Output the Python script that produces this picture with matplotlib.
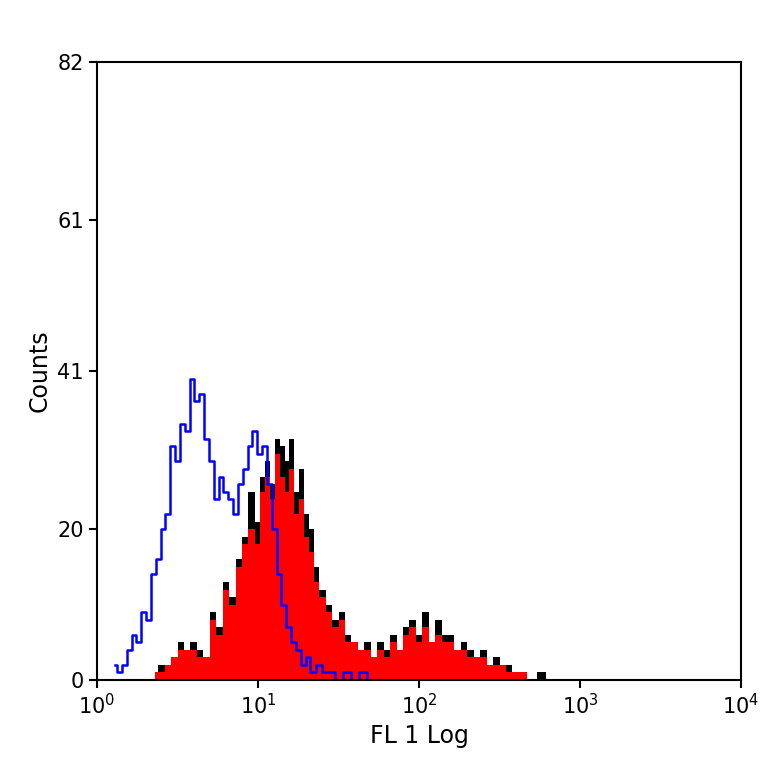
import matplotlib
matplotlib.use("Agg")
import matplotlib.pyplot as plt
import numpy as np

# log10 channel positions and counts
blue_x = [0.11,0.14,0.17,0.20,0.23,0.26,0.29,0.32,0.35,0.38,0.41,0.44,0.47,0.50,0.53,0.56,0.59,0.62,0.65,0.68,0.71,0.74,0.77,0.80,0.83,0.86,0.89,0.92,0.95,0.98,1.01,1.04,1.07,1.10,1.13,1.16,1.19,1.22,1.25,1.28,1.31,1.34,1.38,1.42,1.46,1.50,1.55,1.60,1.65,1.70,1.76,1.82]
blue_y = [2,1,2,4,6,5,9,8,14,16,20,22,31,29,34,33,40,37,38,32,29,24,27,25,24,22,26,28,31,33,30,31,26,20,14,10,7,5,4,2,3,1,2,1,1,0,1,0,1,0,0,0]

blk_x = [0.36,0.40,0.44,0.48,0.52,0.56,0.60,0.64,0.68,0.72,0.76,0.80,0.84,0.88,0.92,0.96,1.00,1.03,1.06,1.09,1.12,1.15,1.18,1.21,1.24,1.27,1.30,1.33,1.36,1.40,1.44,1.48,1.52,1.56,1.60,1.64,1.68,1.72,1.76,1.80,1.84,1.88,1.92,1.96,2.00,2.04,2.08,2.12,2.16,2.20,2.24,2.28,2.32,2.36,2.40,2.44,2.48,2.52,2.56,2.60,2.64,2.70,2.76,2.82]
blk_y = [1,2,2,3,5,4,5,4,3,9,7,13,11,16,19,25,21,27,29,26,32,31,29,32,25,28,22,20,15,12,10,8,9,6,5,4,5,3,5,4,6,4,7,8,6,9,5,8,6,6,4,5,4,3,4,2,3,2,2,1,1,0,1,0]
red_y = [1,1,2,3,4,4,4,3,3,8,6,12,10,15,18,20,18,25,27,24,30,27,25,28,22,24,19,17,13,11,9,7,8,5,5,4,4,3,4,3,5,4,6,7,5,7,5,6,5,5,4,4,3,3,3,2,2,2,1,1,1,0,0,0]

fig = plt.figure(figsize=(7.64,7.64), dpi=100)
ax = fig.add_axes([97/764, 1-680/764, 644/764, 618/764])
bx = 10**np.array(blk_x)
ax.fill_between(bx, blk_y, step='mid', color='black', lw=0)
ax.fill_between(bx, red_y, step='mid', color='red', lw=0)
ax.step(10**np.array(blue_x), blue_y, where='mid', color='blue', lw=1.8)
ax.set_xscale('log')
ax.set_xlim(1, 1e4)
ax.set_ylim(0, 82)
ax.set_yticks([0,20,41,61,82])
ax.set_xticks([1,10,100,1000,10000])
ax.set_xticklabels([r'$10^0$', r'$10^1$', r'$10^2$', r'$10^3$', r'$10^4$'])
ax.minorticks_off()
ax.tick_params(direction='out', length=6, width=1.5, labelsize=15)
for s in ax.spines.values():
    s.set_linewidth(1.5)
ax.set_xlabel('FL 1 Log', fontsize=17)
ax.set_ylabel('Counts', fontsize=17)
fig.savefig('out.png', dpi=100)
